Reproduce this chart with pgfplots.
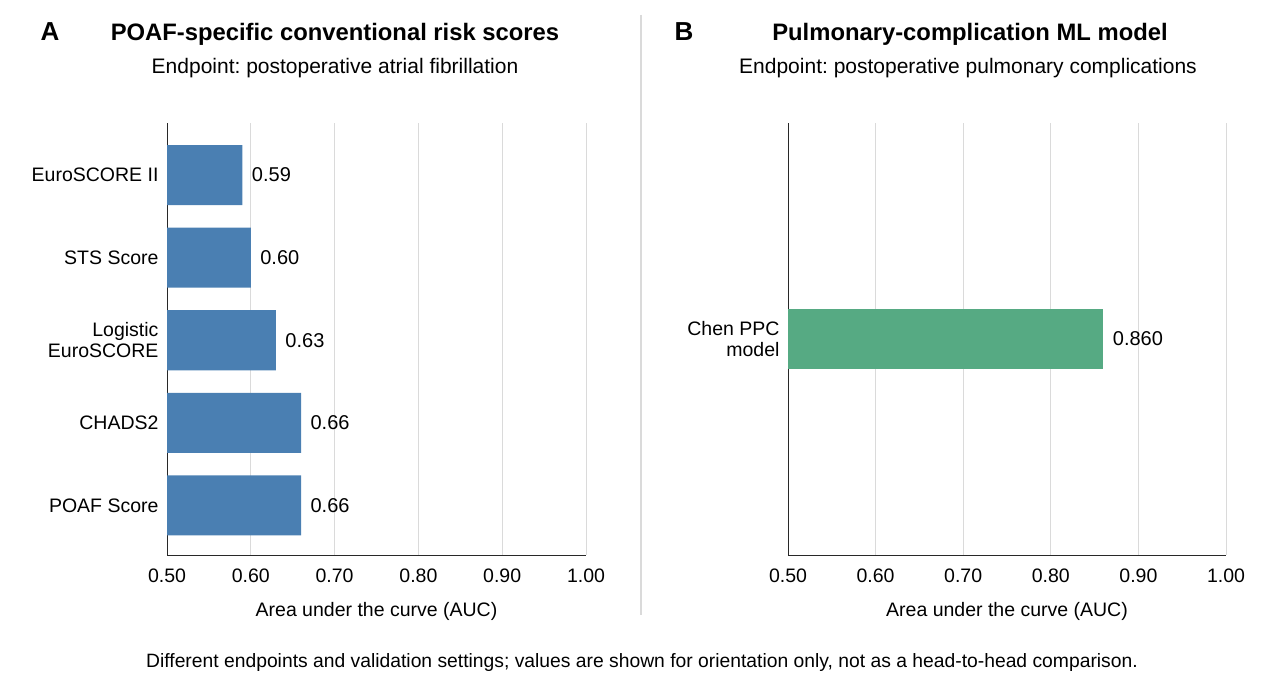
\documentclass[border=0pt]{standalone}
\usepackage{pgfplots}
\pgfplotsset{compat=1.18}
\usepackage{fontspec}
\setmainfont{Liberation Sans}
\frenchspacing

\definecolor{barblue}{RGB}{74,127,178}
\definecolor{bargreen}{RGB}{86,170,131}
\definecolor{gridgray}{RGB}{218,218,218}
\definecolor{axisgray}{RGB}{40,40,40}

\pgfplotsset{
  auc/.style={
    scale only axis, width=419pt, height=432pt,
    xmin=0.5, xmax=1.0,
    xtick={0.5,0.6,0.7,0.8,0.9,1.0},
    xticklabel={\pgfmathprintnumber[fixed,fixed zerofill,precision=2]{\tick}},
    /pgf/number format/assume math mode=true,
    axis x line*=bottom, axis y line*=left,
    axis line style={-, axisgray, line width=1pt},
    xmajorgrids, major grid style={gridgray, line width=1pt},
    major tick length=0pt,
    tick label style={font=\fontsize{19.5}{21.5}\selectfont},
    xticklabel style={yshift=-10pt},
    yticklabel style={align=right, xshift=-5pt},
    xlabel={Area under the curve (AUC)},
    xlabel style={font=\fontsize{19.5}{21.5}\selectfont, yshift=-13pt},
    y dir=reverse,
    ytick=data,
    xbar, bar width=60pt,
    nodes near coords,
    every node near coord/.append style={font=\fontsize{20}{22}\selectfont, anchor=west, xshift=6pt},
  },
}

\begin{document}
\begin{tikzpicture}
  % page frame
  \path (0pt,0pt) rectangle (1263pt,-685pt);

  % panel headings
  \node[anchor=base west, font=\bfseries\fontsize{26}{30}\selectfont] at (37pt,-41pt) {A};
  \node[anchor=base, font=\bfseries\fontsize{23.8}{27}\selectfont] at (335pt,-41pt) {POAF-specific conventional risk scores};
  \node[anchor=base, font=\fontsize{21}{24}\selectfont] at (335pt,-74pt) {Endpoint: postoperative atrial fibrillation};

  \node[anchor=base west, font=\bfseries\fontsize{26}{30}\selectfont] at (671pt,-41pt) {B};
  \node[anchor=base, font=\bfseries\fontsize{23.8}{27}\selectfont] at (970pt,-41pt) {Pulmonary-complication ML model};
  \node[anchor=base, font=\fontsize{21}{24}\selectfont] at (968pt,-74pt) {Endpoint: postoperative pulmonary complications};

  % divider between panels
  \draw[gridgray, line width=1.5pt] (641pt,-15pt) -- (641pt,-615pt);

  % panel A
  \begin{axis}[auc,
      at={(167pt,-555pt)}, anchor=south west,
      ymin=-0.63, ymax=4.6,
      yticklabels={EuroSCORE II, STS Score, {Logistic\\EuroSCORE}, CHADS2, POAF Score},
      nodes near coords={\pgfmathprintnumber[fixed,fixed zerofill,precision=2]{\pgfplotspointmeta}},
    ]
    \addplot[fill=barblue, draw=none] coordinates {
      (0.59,0) (0.60,1) (0.63,2) (0.66,3) (0.66,4)
    };
  \end{axis}

  % panel B
  \begin{axis}[auc,
      width=438pt,
      at={(788pt,-555pt)}, anchor=south west,
      ymin=-2.6, ymax=2.6,
      yticklabels={{Chen PPC\\model}},
      nodes near coords={\pgfmathprintnumber[fixed,fixed zerofill,precision=3]{\pgfplotspointmeta}},
    ]
    \addplot[fill=bargreen, draw=none] coordinates {
      (0.860,0)
    };
  \end{axis}

  % footnote
  \node[anchor=base, font=\fontsize{19.3}{22}\selectfont] at (642pt,-667pt)
    {Different endpoints and validation settings; values are shown for orientation only, not as a head-to-head comparison.};
\end{tikzpicture}
\end{document}
